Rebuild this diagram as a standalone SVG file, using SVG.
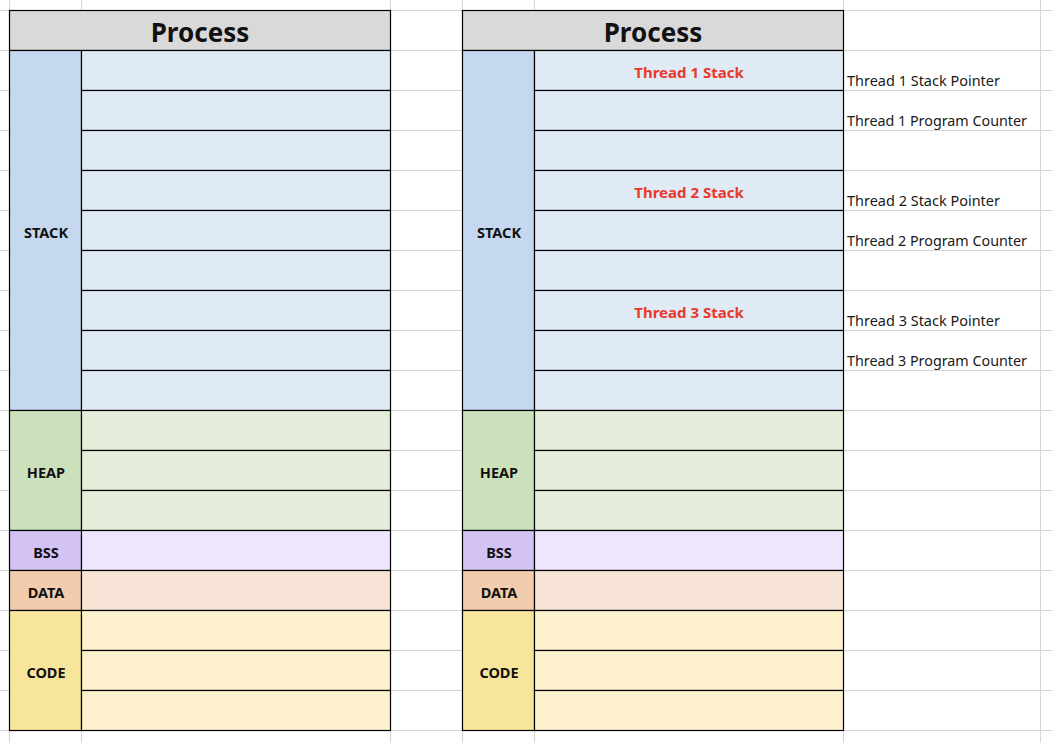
<svg xmlns="http://www.w3.org/2000/svg" width="1052" height="743" viewBox="0 0 1052 743">
  <style>
    .grid line { stroke: #d4d4d4; stroke-width: 1; }
    .cell { stroke: #000; stroke-width: 1.2; }
    .hdr { fill: #d9d9d9; }
    .stk-l { fill: #c5d8ef; } .stk-c { fill: #e0eaf5; }
    .hep-l { fill: #cde0bc; } .hep-c { fill: #e3edda; }
    .bss-l { fill: #d3c3f4; } .bss-c { fill: #efe5fc; }
    .dat-l { fill: #f1cdae; } .dat-c { fill: #f8e4d7; }
    .cod-l { fill: #f8e59c; } .cod-c { fill: #fcf1cc; }
    text { font-family: "Noto Sans", "Open Sans", sans-serif; fill: #111; }
    .title { font-size: 26px; font-weight: bold; text-anchor: middle; }
    .seg { font-size: 14.5px; font-weight: bold; text-anchor: middle; }
    .thr { font-size: 15px; font-weight: bold; text-anchor: middle; fill: #e8392a; }
    .note { font-size: 14.5px; fill: #1a1a1a; }
  </style>

  <rect width="1052" height="743" fill="#fff"/>

  <!-- sheet gridlines -->
  <g class="grid">
    <line x1="9.5" y1="0" x2="9.5" y2="743"/>
    <line x1="81.5" y1="0" x2="81.5" y2="743"/>
    <line x1="390.5" y1="0" x2="390.5" y2="743"/>
    <line x1="462.5" y1="0" x2="462.5" y2="743"/>
    <line x1="534.5" y1="0" x2="534.5" y2="743"/>
    <line x1="843.5" y1="0" x2="843.5" y2="743"/>
    <line x1="1040.5" y1="0" x2="1040.5" y2="743"/>
    <line x1="0" y1="10.5" x2="1052" y2="10.5"/>
    <line x1="0" y1="50.5" x2="1052" y2="50.5"/>
    <line x1="0" y1="90.5" x2="1052" y2="90.5"/>
    <line x1="0" y1="130.5" x2="1052" y2="130.5"/>
    <line x1="0" y1="170.5" x2="1052" y2="170.5"/>
    <line x1="0" y1="210.5" x2="1052" y2="210.5"/>
    <line x1="0" y1="250.5" x2="1052" y2="250.5"/>
    <line x1="0" y1="290.5" x2="1052" y2="290.5"/>
    <line x1="0" y1="330.5" x2="1052" y2="330.5"/>
    <line x1="0" y1="370.5" x2="1052" y2="370.5"/>
    <line x1="0" y1="410.5" x2="1052" y2="410.5"/>
    <line x1="0" y1="450.5" x2="1052" y2="450.5"/>
    <line x1="0" y1="490.5" x2="1052" y2="490.5"/>
    <line x1="0" y1="530.5" x2="1052" y2="530.5"/>
    <line x1="0" y1="570.5" x2="1052" y2="570.5"/>
    <line x1="0" y1="610.5" x2="1052" y2="610.5"/>
    <line x1="0" y1="650.5" x2="1052" y2="650.5"/>
    <line x1="0" y1="690.5" x2="1052" y2="690.5"/>
    <line x1="0" y1="730.5" x2="1052" y2="730.5"/>
  </g>

  <!-- left process: single-threaded memory layout -->
  <g id="process-left">
    <rect class="cell hdr" x="9.5" y="10.5" width="381" height="40"/>
    <text class="title" x="200" y="42">Process</text>

    <rect class="cell stk-l" x="9.5" y="50.5" width="72" height="360"/>
    <rect class="cell stk-c" x="81.5" y="50.5" width="309" height="40"/>
    <rect class="cell stk-c" x="81.5" y="90.5" width="309" height="40"/>
    <rect class="cell stk-c" x="81.5" y="130.5" width="309" height="40"/>
    <rect class="cell stk-c" x="81.5" y="170.5" width="309" height="40"/>
    <rect class="cell stk-c" x="81.5" y="210.5" width="309" height="40"/>
    <rect class="cell stk-c" x="81.5" y="250.5" width="309" height="40"/>
    <rect class="cell stk-c" x="81.5" y="290.5" width="309" height="40"/>
    <rect class="cell stk-c" x="81.5" y="330.5" width="309" height="40"/>
    <rect class="cell stk-c" x="81.5" y="370.5" width="309" height="40"/>
    <text class="seg" x="46" y="238">STACK</text>

    <rect class="cell hep-l" x="9.5" y="410.5" width="72" height="120"/>
    <rect class="cell hep-c" x="81.5" y="410.5" width="309" height="40"/>
    <rect class="cell hep-c" x="81.5" y="450.5" width="309" height="40"/>
    <rect class="cell hep-c" x="81.5" y="490.5" width="309" height="40"/>
    <text class="seg" x="46" y="478">HEAP</text>

    <rect class="cell bss-l" x="9.5" y="530.5" width="72" height="40"/>
    <rect class="cell bss-c" x="81.5" y="530.5" width="309" height="40"/>
    <text class="seg" x="46" y="558">BSS</text>

    <rect class="cell dat-l" x="9.5" y="570.5" width="72" height="40"/>
    <rect class="cell dat-c" x="81.5" y="570.5" width="309" height="40"/>
    <text class="seg" x="46" y="598">DATA</text>

    <rect class="cell cod-l" x="9.5" y="610.5" width="72" height="120"/>
    <rect class="cell cod-c" x="81.5" y="610.5" width="309" height="40"/>
    <rect class="cell cod-c" x="81.5" y="650.5" width="309" height="40"/>
    <rect class="cell cod-c" x="81.5" y="690.5" width="309" height="40"/>
    <text class="seg" x="46" y="678">CODE</text>
  </g>

  <!-- right process: three threads, each with its own stack -->
  <g id="process-right">
    <rect class="cell hdr" x="462.5" y="10.5" width="381" height="40"/>
    <text class="title" x="653" y="42">Process</text>

    <rect class="cell stk-l" x="462.5" y="50.5" width="72" height="360"/>
    <rect class="cell stk-c" x="534.5" y="50.5" width="309" height="40"/>
    <rect class="cell stk-c" x="534.5" y="90.5" width="309" height="40"/>
    <rect class="cell stk-c" x="534.5" y="130.5" width="309" height="40"/>
    <rect class="cell stk-c" x="534.5" y="170.5" width="309" height="40"/>
    <rect class="cell stk-c" x="534.5" y="210.5" width="309" height="40"/>
    <rect class="cell stk-c" x="534.5" y="250.5" width="309" height="40"/>
    <rect class="cell stk-c" x="534.5" y="290.5" width="309" height="40"/>
    <rect class="cell stk-c" x="534.5" y="330.5" width="309" height="40"/>
    <rect class="cell stk-c" x="534.5" y="370.5" width="309" height="40"/>
    <text class="seg" x="499" y="238">STACK</text>
    <text class="thr" x="689" y="78">Thread 1 Stack</text>
    <text class="thr" x="689" y="198">Thread 2 Stack</text>
    <text class="thr" x="689" y="318">Thread 3 Stack</text>

    <rect class="cell hep-l" x="462.5" y="410.5" width="72" height="120"/>
    <rect class="cell hep-c" x="534.5" y="410.5" width="309" height="40"/>
    <rect class="cell hep-c" x="534.5" y="450.5" width="309" height="40"/>
    <rect class="cell hep-c" x="534.5" y="490.5" width="309" height="40"/>
    <text class="seg" x="499" y="478">HEAP</text>

    <rect class="cell bss-l" x="462.5" y="530.5" width="72" height="40"/>
    <rect class="cell bss-c" x="534.5" y="530.5" width="309" height="40"/>
    <text class="seg" x="499" y="558">BSS</text>

    <rect class="cell dat-l" x="462.5" y="570.5" width="72" height="40"/>
    <rect class="cell dat-c" x="534.5" y="570.5" width="309" height="40"/>
    <text class="seg" x="499" y="598">DATA</text>

    <rect class="cell cod-l" x="462.5" y="610.5" width="72" height="120"/>
    <rect class="cell cod-c" x="534.5" y="610.5" width="309" height="40"/>
    <rect class="cell cod-c" x="534.5" y="650.5" width="309" height="40"/>
    <rect class="cell cod-c" x="534.5" y="690.5" width="309" height="40"/>
    <text class="seg" x="499" y="678">CODE</text>
  </g>

  <!-- per-thread register notes -->
  <g id="thread-notes">
    <text class="note" x="847" y="86" textLength="153" lengthAdjust="spacingAndGlyphs">Thread 1 Stack Pointer</text>
    <text class="note" x="847" y="126" textLength="180" lengthAdjust="spacingAndGlyphs">Thread 1 Program Counter</text>
    <text class="note" x="847" y="206" textLength="153" lengthAdjust="spacingAndGlyphs">Thread 2 Stack Pointer</text>
    <text class="note" x="847" y="246" textLength="180" lengthAdjust="spacingAndGlyphs">Thread 2 Program Counter</text>
    <text class="note" x="847" y="326" textLength="153" lengthAdjust="spacingAndGlyphs">Thread 3 Stack Pointer</text>
    <text class="note" x="847" y="366" textLength="180" lengthAdjust="spacingAndGlyphs">Thread 3 Program Counter</text>
  </g>
</svg>
